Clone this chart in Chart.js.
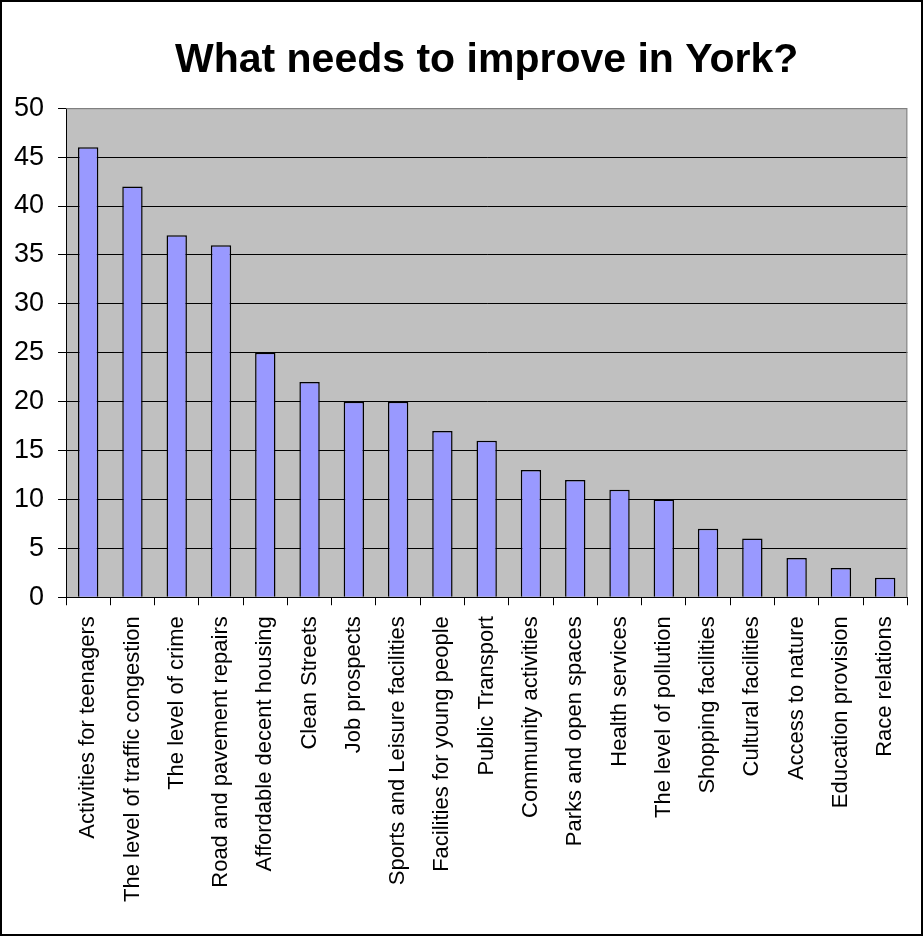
<!DOCTYPE html>
<html>
<head>
<meta charset="utf-8">
<title>What needs to improve in York?</title>
<script src="https://cdn.jsdelivr.net/npm/chart.js@4"></script>
<style>
  html, body { margin: 0; padding: 0; background: #fff; }
  canvas { display: block; }
</style>
</head>
<body>
<canvas id="york-chart" width="923" height="936"></canvas>
<script>
// Categories and survey counts
const categories = [
  'Activities for teenagers',
  'The level of traffic congestion',
  'The level of crime',
  'Road and pavement repairs',
  'Affordable decent housing',
  'Clean Streets',
  'Job prospects',
  'Sports and Leisure facilities',
  'Facilities for young people',
  'Public Transport',
  'Community activities',
  'Parks and open spaces',
  'Health services',
  'The level of pollution',
  'Shopping facilities',
  'Cultural facilities',
  'Access to nature',
  'Education provision',
  'Race relations'
];
const responses = [46, 42, 37, 36, 25, 22, 20, 20, 17, 16, 13, 12, 11, 10, 7, 6, 4, 3, 2];
const yTicks = [0, 5, 10, 15, 20, 25, 30, 35, 40, 45, 50];

const FONT = '"Liberation Sans", Arial, sans-serif';

// Grey plot area with a thin grey frame, and a black frame round the whole chart
const frames = {
  id: 'frames',
  beforeDraw(chart) {
    const { ctx, chartArea: a } = chart;
    ctx.save();
    ctx.fillStyle = '#ffffff';
    ctx.fillRect(0, 0, chart.width, chart.height);
    ctx.fillStyle = '#c0c0c0';
    ctx.fillRect(a.left, a.top, a.right - a.left, a.bottom - a.top);
    ctx.restore();
  },
  afterDraw(chart) {
    const { ctx, chartArea: a } = chart;
    ctx.save();
    ctx.strokeStyle = '#808080';
    ctx.lineWidth = 1;
    ctx.beginPath();
    ctx.moveTo(a.left, a.top + 0.5);
    ctx.lineTo(a.right - 0.5, a.top + 0.5);
    ctx.lineTo(a.right - 0.5, a.bottom);
    ctx.stroke();
    ctx.strokeStyle = '#000000';
    ctx.lineWidth = 2;
    ctx.strokeRect(1, 1, chart.width - 2, chart.height - 2);
    ctx.restore();
  }
};

new Chart(document.getElementById('york-chart'), {
  type: 'bar',
  data: {
    labels: categories,
    datasets: [{
      label: 'Responses',
      data: responses,
      backgroundColor: '#9999ff',
      borderColor: '#000000',
      borderWidth: 1.5,
      barPercentage: 0.46,
      categoryPercentage: 1
    }]
  },
  options: {
    responsive: false,
    animation: false,
    layout: {
      padding: { left: 0, right: 10, top: 0, bottom: 23 }
    },
    plugins: {
      legend: { display: false },
      tooltip: { enabled: false },
      title: {
        display: true,
        fullSize: false,
        text: 'What needs to improve in York?',
        color: '#000000',
        font: { family: FONT, size: 41, weight: 'bold' },
        padding: { top: 36, bottom: 23 }
      }
    },
    scales: {
      x: {
        grid: {
          drawOnChartArea: false,
          drawTicks: true,
          tickLength: 8,
          color: '#000000'
        },
        border: { color: '#000000', width: 1 },
        ticks: {
          color: '#000000',
          font: { family: FONT, size: 22 },
          minRotation: 90,
          maxRotation: 90,
          autoSkip: false,
          padding: 11
        }
      },
      y: {
        min: yTicks[0],
        max: yTicks[yTicks.length - 1],
        afterBuildTicks(scale) {
          scale.ticks = yTicks.map(v => ({ value: v }));
        },
        grid: {
          color: ctx => (ctx.tick && ctx.tick.value === 50 ? '#808080' : '#000000'),
          tickColor: '#000000',
          tickLength: 8,
          lineWidth: 1
        },
        border: { color: '#000000', width: 1 },
        ticks: {
          color: '#000000',
          font: { family: FONT, size: 27 },
          padding: 14
        }
      }
    }
  },
  plugins: [frames]
});
</script>
</body>
</html>
